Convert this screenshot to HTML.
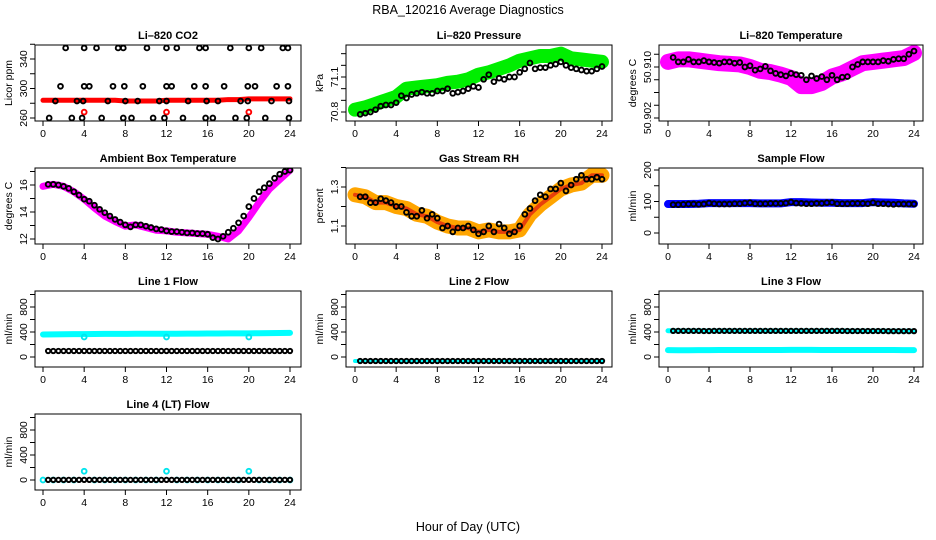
<!DOCTYPE html>
<html><head><meta charset="utf-8"><style>
body{margin:0;background:#fff;}
svg{display:block;font-family:"Liberation Sans",sans-serif;}
</style></head><body>
<svg id="c" width="936" height="540" viewBox="0 0 936 540">
<text x="468" y="14" font-size="12.5" text-anchor="middle">RBA_120216  Average Diagnostics</text>
<text x="468" y="531" font-size="12.5" text-anchor="middle">Hour of Day (UTC)</text>
</svg>
<script>
const hours25=[0,1,2,3,4,5,6,7,8,9,10,11,12,13,14,15,16,17,18,19,20,21,22,23,24];
const hours48=[0.5,1,1.5,2,2.5,3,3.5,4,4.5,5,5.5,6,6.5,7,7.5,8,8.5,9,9.5,10,10.5,11,11.5,12,12.5,13,13.5,14,14.5,15,15.5,16,16.5,17,17.5,18,18.5,19,19.5,20,20.5,21,21.5,22,22.5,23,23.5,24];
const xTicks=[0,4,8,12,16,20,24];
// CO2
const co2Hours=[2.2,4,5.2,7.3,7.8,10.1,12,13,15.2,15.8,18.2,20,21.2,23.3,23.8,1.7,4,4.5,6.8,7.9,9.7,12,12.5,14.7,15.8,17.6,19.9,20.6,22.7,23.8,1.2,3.3,3.9,6.3,8,9.2,11.3,12,14.1,15.9,17,19.2,19.9,22.2,23.9,0.6,2.8,3.8,5.7,7.8,8.6,10.7,11.8,13.6,15.8,16.5,18.7,19.8,21.6,23.9];
const co2Black=[355,355,355,355,355,355,355,355,355,355,355,355,355,355,355,303,303,303,303,303,303,303,303,303,303,303,303,303,303,303,283,283,283,283,283,283,283,283,283,283,283,283,283,283,283,260,260,260,260,260,260,260,260,260,260,260,260,260,260,260];
const co2Red=[284,284,284,284,284,284,284,284,283,283,283,283,284,284,284,284,284,284,285,285,286,286,286,286,286];
const co2RedSpikeHours=[4,12,20];
const co2RedSpikes=[268,268,268];
// Pressure
const presBand=[70.82,70.84,70.87,70.9,70.93,71.0,71.01,71.02,71.03,71.05,71.06,71.08,71.12,71.14,71.17,71.2,71.24,71.26,71.28,71.28,71.3,71.26,71.25,71.24,71.23];
const presBlack=[70.78,70.79,70.8,70.82,70.85,70.86,70.86,70.88,70.94,70.92,70.95,70.96,70.97,70.96,70.96,70.98,70.98,71.0,70.96,70.97,70.98,71.0,71.02,71.01,71.08,71.12,71.06,71.09,71.08,71.1,71.1,71.14,71.17,71.22,71.17,71.18,71.18,71.2,71.21,71.23,71.2,71.18,71.17,71.16,71.15,71.15,71.17,71.19];
// Li-820 temperature
const tempBand=[50.9108,50.9112,50.9112,50.911,50.9108,50.9106,50.9105,50.9104,50.91,50.9094,50.9092,50.9088,50.9083,50.907,50.907,50.9075,50.9085,50.909,50.9098,50.9106,50.9108,50.911,50.9112,50.9114,50.9122];
const tempBlack=[50.9115,50.9108,50.9108,50.9112,50.9108,50.9108,50.911,50.9108,50.9107,50.9106,50.9108,50.9108,50.9106,50.9107,50.91,50.9102,50.9095,50.9097,50.9101,50.9094,50.909,50.9088,50.9086,50.909,50.9088,50.9087,50.908,50.9086,50.9082,50.9085,50.908,50.9087,50.908,50.9084,50.9085,50.91,50.9104,50.9108,50.9108,50.9108,50.9108,50.911,50.9109,50.9112,50.9113,50.9113,50.912,50.9125];
// Ambient
const ambBand=[15.9,16.05,15.9,15.5,14.95,14.3,13.7,13.3,12.95,13.05,12.85,12.65,12.6,12.5,12.45,12.4,12.35,12.2,12.0,12.6,13.6,14.7,15.7,16.4,17.1];
const ambBlack=[16.05,16.05,16.0,15.9,15.75,15.5,15.25,14.95,14.8,14.5,14.2,13.95,13.7,13.45,13.25,13.05,12.9,13.05,13.05,12.95,12.85,12.75,12.7,12.6,12.55,12.55,12.5,12.45,12.45,12.4,12.4,12.35,12.1,12.0,12.2,12.5,12.8,13.2,13.7,14.4,15.0,15.5,15.8,16.1,16.5,16.8,17.0,17.1];
// RH
const rhBand=[1.26,1.25,1.22,1.22,1.2,1.19,1.16,1.15,1.12,1.1,1.09,1.09,1.07,1.08,1.07,1.07,1.08,1.16,1.21,1.25,1.29,1.31,1.32,1.36,1.36];
const rhBlack=[1.25,1.25,1.22,1.22,1.24,1.23,1.22,1.2,1.2,1.17,1.15,1.15,1.18,1.14,1.16,1.14,1.09,1.1,1.07,1.09,1.09,1.1,1.08,1.06,1.07,1.1,1.07,1.11,1.09,1.06,1.07,1.1,1.16,1.19,1.23,1.26,1.25,1.29,1.29,1.32,1.28,1.31,1.34,1.36,1.34,1.34,1.35,1.34];
// Sample flow
const sfBand=[92,92,92,93,95,95,95,95,95,94,94,94,98,98,97,96,96,95,95,95,98,97,96,94,93];
const sfBlack=[90,90,91,92,92,91,92,95,93,92,92,92,93,93,95,96,93,93,93,94,94,94,95,98,95,94,93,93,94,94,96,97,93,93,93,94,94,94,93,96,93,93,92,91,92,92,92,92];
// Line flows (hourly)
const l1Cyan=[360,362,364,366,366,368,370,370,370,372,372,372,372,372,374,374,376,376,378,378,378,380,382,384,386];
const l1SpikeHours=[4,12,20];
const l1Spikes=[320,320,320];
const l1Black=[96,96,96,96,96,96,96,96,96,96,96,96,96,96,96,96,96,96,96,96,96,96,96,96,96];
const l2Cyan=[-64,-64,-64,-64,-64,-64,-64,-64,-64,-64,-64,-64,-64,-64,-64,-64,-64,-64,-64,-64,-64,-64,-64,-64,-64];
const l2Black=[-64,-64,-64,-64,-64,-64,-64,-64,-64,-64,-64,-64,-64,-64,-64,-64,-64,-64,-64,-64,-64,-64,-64,-64,-64];
const l3Cyan=[110,108,108,110,110,112,112,112,112,112,112,112,114,114,114,112,112,112,112,112,112,112,112,110,110];
const l3Black=[420,418,418,418,416,418,418,418,418,418,418,418,418,418,418,418,418,418,416,416,416,416,414,414,414];
const l4Cyan=[0,0,0,0,140,0,0,0,0,0,0,0,140,0,0,0,0,0,0,0,140,0,0,0,0];
const l4Black=[2,2,2,2,2,2,2,2,2,2,2,2,2,2,2,2,2,2,2,2,2,2,2,2,2];

const NS='http://www.w3.org/2000/svg';
const svg=document.getElementById('c');
const cols=[{x0:43,x24:290,l:35,r:301},{x0:355,x24:602,l:346,r:612},{x0:668,x24:914,l:659,r:923}];
const rows=[45,168,291,414];const BH=76;
function mk(tag,attrs,parent){const e=document.createElementNS(NS,tag);for(const k in attrs)e.setAttribute(k,attrs[k]);(parent||svg).appendChild(e);return e;}

function panel(name,title,ylab,col,row,v1,v2,yTicks,yLabels,series){
  const c=cols[col],top=rows[row],bot=top+BH;
  const g=mk('g',{});
  
  
  const xs=h=>c.x0+h*(c.x24-c.x0)/24;
  const ys=v=>(top+v1.p)+(v-v1.v)*(v2.p-v1.p)/(v2.v-v1.v);
  const t=mk('text',{x:(c.l+c.r)/2,y:top-6,'font-size':11,'font-weight':'bold','text-anchor':'middle'},g);t.textContent=title;
  
  
  const yl=mk('text',{x:0,y:0,'font-size':10.5,'text-anchor':'middle',transform:`translate(${c.l-23},${top+BH/2}) rotate(-90)`},g);yl.textContent=ylab;
  
  
  const plot=mk('g',{},g);
  const cp='cp'+name;const cl=mk('clipPath',{id:cp},g);mk('rect',{x:c.l,y:top,width:c.r-c.l,height:BH},cl);
  plot.setAttribute('clip-path',`url(#${cp})`);
  series.forEach(s=>{
    if(s.type==='band'){
      const pts=s.x.map((h,i)=>xs(h)+','+ys(s.y[i])).join(' ');
      const pl=mk('polyline',{points:pts,fill:'none',stroke:s.color,'stroke-width':s.w,'stroke-linejoin':'round','stroke-linecap':'round'},plot);
      
      
    } else {
      s.x.forEach((h,i)=>{
        const ci=mk('circle',{cx:xs(h),cy:ys(s.y[i]),r:s.r||2.4,fill:'none',stroke:s.color,'stroke-width':s.sw||1.9},plot);
        
        
      });
    }
  });
  const box=mk('rect',{x:c.l,y:top,width:c.r-c.l,height:BH,fill:'none',stroke:'#000','stroke-width':1},g);
  
  
  xTicks.forEach(h=>{
    mk('line',{x1:xs(h),x2:xs(h),y1:bot,y2:bot+5,stroke:'#000'},g);
    const tx=mk('text',{x:xs(h),y:bot+16,'font-size':10.5,'text-anchor':'middle'},g);tx.textContent=h;
    
    
  });
  yTicks.forEach(v=>{mk('line',{x1:c.l,x2:c.l-5,y1:ys(v),y2:ys(v),stroke:'#000'},g);});
  yLabels.forEach(v=>{
    const tx=mk('text',{x:0,y:0,'font-size':10.5,'text-anchor':'middle',transform:`translate(${c.l-8},${ys(v)}) rotate(-90)`},g);tx.textContent=v;
    
    
  });
}
function stepX(arr){return hours48;}
function stepY(arr){return hours48.map(h=>arr[Math.round(h)]);}

panel('co2','Li–820 CO2','Licor ppm',0,0,{v:260,p:73},{v:340,p:14},[260,280,300,320,340,360],[260,300,340],[
 {type:'band',name:'red-band',x:hours25,y:co2Red,color:'#ff0000',w:5},
 {type:'pts',name:'red-spike',x:co2RedSpikeHours,y:co2RedSpikes,color:'#ff0000'},
 {type:'pts',name:'black',x:co2Hours,y:co2Black,color:'#000'}]);
panel('pressure','Li–820 Pressure','kPa',1,0,{v:70.8,p:67},{v:71.1,p:32},[70.8,70.9,71.0,71.1,71.2,71.3],[70.8,71.1],[
 {type:'band',name:'green-band',x:hours25,y:presBand,color:'#00ee00',w:14},
 {type:'pts',name:'black',x:hours48,y:presBlack,color:'#000'}]);
panel('li820temp','Li–820 Temperature','degrees C',2,0,{v:50.902,p:73},{v:50.910,p:22},[50.902,50.904,50.906,50.908,50.910,50.912],['50.902','50.910'],[
 {type:'band',name:'magenta-band',x:hours25,y:tempBand,color:'#ff00ff',w:16},
 {type:'pts',name:'black',x:hours48,y:tempBlack,color:'#000'}]);
panel('ambient','Ambient Box Temperature','degrees C',0,1,{v:12,p:71},{v:16,p:17},[12,13,14,15,16,17],[12,14,16],[
 {type:'band',name:'magenta-band',x:hours25,y:ambBand,color:'#ff00ff',w:7},
 {type:'pts',name:'black',x:hours48,y:ambBlack,color:'#000'}]);
panel('rh','Gas Stream RH','percent',1,1,{v:1.1,p:58},{v:1.3,p:19},[1.1,1.2,1.3,1.4],[1.1,1.3],[
 {type:'band',name:'orange-band',x:hours25,y:rhBand,color:'#ffa500',w:15},
 {type:'band',name:'red-core',x:hours25,y:rhBand,color:'#e8400a',w:4},
 {type:'pts',name:'black',x:hours48,y:rhBlack,color:'#000'}]);
panel('sampleflow','Sample Flow','ml/min',2,1,{v:0,p:65},{v:200,p:2},[0,50,100,150,200],[0,100,200],[
 {type:'band',name:'blue-band',x:hours25,y:sfBand,color:'#0000ff',w:8},
 {type:'pts',name:'black',x:hours48,y:sfBlack,color:'#000'}]);
const flowV1={v:0,p:66},flowV2={v:800,p:16},flowT=[0,200,400,600,800,1000],flowL=[0,400,800];
panel('line1','Line 1 Flow','ml/min',0,2,flowV1,flowV2,flowT,flowL,[
 {type:'band',name:'cyan-band',x:hours25,y:l1Cyan,color:'#00ffff',w:6},
 {type:'pts',name:'cyan-spike',x:l1SpikeHours,y:l1Spikes,color:'#00e5ee'},
 {type:'pts',name:'black',x:stepX(l1Black),y:stepY(l1Black),color:'#000',r:2.2}]);
panel('line2','Line 2 Flow','ml/min',1,2,flowV1,flowV2,flowT,flowL,[
 {type:'band',name:'cyan-band',x:hours25,y:l2Cyan,color:'#00ffff',w:4},
 {type:'pts',name:'black',x:stepX(l2Black),y:stepY(l2Black),color:'#000',r:2.2}]);
panel('line3','Line 3 Flow','ml/min',2,2,flowV1,flowV2,flowT,flowL,[
 {type:'band',name:'cyan-band-high',x:hours25,y:l3Black,color:'#00ffff',w:5},
 {type:'band',name:'cyan-band-low',x:hours25,y:l3Cyan,color:'#00ffff',w:6},
 {type:'pts',name:'black',x:stepX(l3Black),y:stepY(l3Black),color:'#000',r:2.2}]);
panel('line4','Line 4 (LT) Flow','ml/min',0,3,flowV1,flowV2,flowT,flowL,[
 {type:'pts',name:'cyan',x:hours25,y:l4Cyan,color:'#00e5ee'},
 {type:'pts',name:'black',x:stepX(l4Black),y:stepY(l4Black),color:'#000',r:2.2}]);
</script>
</body></html>
